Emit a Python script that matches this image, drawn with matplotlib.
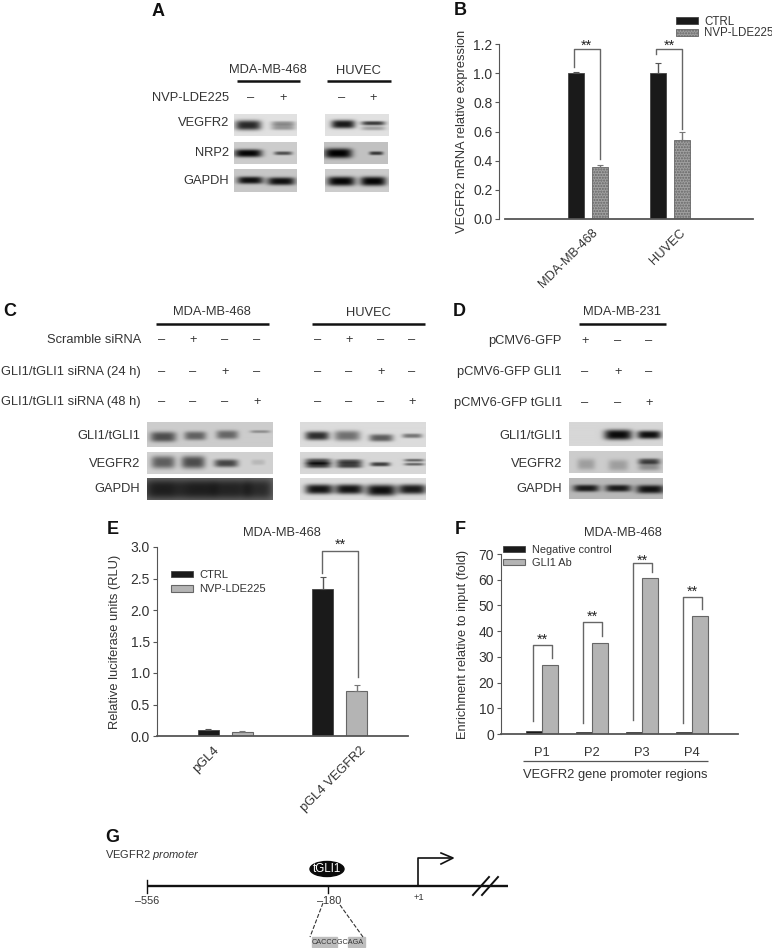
import numpy as np
import matplotlib
matplotlib.use('Agg')
import matplotlib.pyplot as plt
from matplotlib.patches import Ellipse, Rectangle
from matplotlib.transforms import ScaledTranslation

plt.rcParams['font.family'] = ['Liberation Sans', 'DejaVu Sans']
plt.rcParams['text.color'] = '#333333'
plt.rcParams['axes.labelcolor'] = '#333333'
plt.rcParams['xtick.color'] = '#333333'
plt.rcParams['ytick.color'] = '#333333'
plt.rcParams['mathtext.fontset'] = 'custom'
plt.rcParams['mathtext.it'] = 'Liberation Sans:italic'
plt.rcParams['mathtext.rm'] = 'Liberation Sans'

W, H = 772, 948
FS = 9.3
DARK = '#1a1a1a'
GREY = '#b4b4b4'
LINE = '#555555'

# panel B
b_groups = ['MDA-MB-468', 'HUVEC']
b_ctrl = [1.0, 1.0]
b_ctrl_err = [0.005, 0.07]
b_nvp = [0.36, 0.545]
b_nvp_err = [0.012, 0.05]
b_left_low = [1.04, 1.13]
b_right_low = [0.41, 0.62]
b_top = [1.166, 1.166]

# panel E
e_groups = ['pGL4', 'pGL4 VEGFR2']
e_ctrl = [0.09, 2.33]
e_ctrl_err = [0.015, 0.19]
e_nvp = [0.07, 0.71]
e_nvp_err = [0.015, 0.10]

# panel F
f_groups = ['P1', 'P2', 'P3', 'P4']
f_neg = [1.0, 0.9, 0.9, 0.9]
f_ab = [27, 35.5, 60.5, 46]
f_top = [34.6, 43.6, 66.5, 53.3]
f_star = [36.6, 45.5, 67.3, 55.2]
f_right_low = [29.6, 38.1, 63, 48.6]
f_left_low = [4.9, 4.3, 5.5, 4.3]

# westerns: (x0, x1, y0, y1, background, bands (x, half width, y, half height, darkness))
blots = [
    # A
    (234, 297, 114, 136, .88, [(248, 13, 125, 3.5, .72), (283, 12, 123, 1.5, .3), (283, 12, 127, 2, .3)]),
    (234, 297, 142, 164, .80, [(248, 14, 153, 2.8, .78), (283, 9, 153, 1.3, .5)]),
    (234, 297, 169, 192, .78, [(250, 13, 180, 2.6, .72), (281, 14, 181, 2.8, .72)]),
    (325, 389, 114, 136, .88, [(343, 12, 124, 3, .78), (373, 12, 123, 1.5, .65), (373, 12, 128, 1.5, .25)]),
    (324, 388, 142, 164, .76, [(338, 14, 153, 3.5, .76), (376, 7, 153, 1.3, .55)]),
    (325, 389, 169, 192, .80, [(341, 14, 181, 3.3, .78), (373, 13, 181, 3.3, .78)]),
    # C
    (147, 273, 423, 447, .80, [(163, 13, 437, 3.5, .5), (195, 11, 436, 3, .42), (227, 11, 435, 3, .4),
                               (260, 10, 432, 1, .25)]),
    (147, 273, 452, 474, .82, [(163, 12, 462, 4.5, .45), (193, 12, 462, 4.5, .52), (226, 12, 463, 2.8, .55),
                               (258, 7, 462, 2, .1)]),
    (147, 273, 478, 500, .42, [(163, 19, 489, 7, .3), (198, 18, 489, 7, .3), (230, 18, 489, 7, .28),
                               (258, 14, 489, 7, .25)]),
    (300, 426, 423, 447, .86, [(317, 12, 436, 3, .68), (347, 13, 436, 3.5, .42), (381, 12, 438, 2.5, .5),
                               (412, 10, 436, 1.5, .4)]),
    (300, 426, 452, 474, .84, [(318, 13, 461, 2, .55), (318, 13, 465, 2, .6), (349, 13, 461, 1.5, .5),
                               (349, 13, 465, 2, .6), (380, 10, 464, 1.5, .6), (414, 10, 460, 1, .45),
                               (414, 10, 464, 1, .45)]),
    (300, 426, 478, 500, .86, [(319, 14, 489, 3.5, .78), (349, 14, 489, 3.5, .78), (381, 15, 490, 4, .8),
                               (412, 14, 489, 3.5, .75)]),
    # D
    (569, 663, 423, 446, .84, [(618, 14, 435, 3.5, .8), (649, 12, 435, 2.8, .78)]),
    (569, 663, 451, 473, .80, [(586, 9, 464, 4, .18), (618, 10, 465, 4, .18), (649, 11, 461, 2, .5),
                               (649, 11, 466, 3, .25)]),
    (569, 663, 478, 499, .72, [(586, 13, 488, 2.5, .62), (618, 13, 488, 2.5, .62), (650, 14, 489, 3, .65)]),
]

# label rows
a_rows = [('VEGFR2', 123), ('NRP2', 153), ('GAPDH', 181)]
c_rows = [('Scramble siRNA', '-+--', 340), ('GLI1/tGLI1 siRNA (24 h)', '--+-', 372),
          ('GLI1/tGLI1 siRNA (48 h)', '---+', 402)]
d_rows = [('pCMV6-GFP', '+--', 341), ('pCMV6-GFP GLI1', '-+-', 372), ('pCMV6-GFP tGLI1', '--+', 403)]
blot_rows = [('GLI1/tGLI1', 436), ('VEGFR2', 464), ('GAPDH', 489)]


def pos(x0, y0, x1, y1):
    # pixel box to figure fraction
    return [x0 / W, 1 - y1 / H, (x1 - x0) / W, (y1 - y0) / H]


def style(ax):
    for s in ['top', 'right']:
        ax.spines[s].set_visible(False)
    ax.spines['left'].set_color(LINE)
    ax.spines['left'].set_linewidth(.8)
    ax.spines['bottom'].set_color(LINE)
    ax.spines['bottom'].set_linewidth(1.3)
    ax.tick_params(axis='y', labelsize=FS + .7, length=3, width=.8, color=LINE, pad=2)
    ax.tick_params(axis='x', length=0)
    ax.patch.set_visible(False)


def shift_labels(ax, dxs, dy=0):
    for lab, dx in zip(ax.get_xticklabels(), dxs):
        lab.set_transform(lab.get_transform() + ScaledTranslation(dx / 100, dy / 100, fig.dpi_scale_trans))


def bracket(ax, x0, x1, low0, low1, top, star_y):
    ax.plot([x0, x0, x1, x1], [low0, top, top, low1], color='#666666', lw=1, clip_on=False, zorder=4)
    ax.text((x0 + x1) / 2, star_y, '**', ha='center', va='center', fontsize=FS + 1, color='#222222', clip_on=False)


fig = plt.figure(figsize=(W / 100, H / 100), dpi=100)

# B
ax = fig.add_axes(pos(505, 44, 753, 219))
ax.bar(np.arange(2) - .145, b_ctrl, .19, color=DARK, edgecolor='#444444', lw=.6, label='CTRL',
       yerr=[[0, 0], b_ctrl_err], ecolor='#555555', error_kw=dict(lw=1, capsize=2, capthick=.8))
ax.bar(np.arange(2) + .145, b_nvp, .19, color='#a0a0a0', edgecolor='#666666', lw=.6, hatch='......',
       label='NVP-LDE225', yerr=[[0, 0], b_nvp_err], ecolor='#777777', error_kw=dict(lw=1, capsize=2, capthick=.8))
ax.set_xlim(-1, 2)
ax.set_ylim(0, 1.2)
ax.set_yticks(np.arange(0, 1.21, .2))
ax.set_xticks(range(2))
ax.set_xticklabels(b_groups, rotation=45, ha='right', rotation_mode='anchor', fontsize=FS)
style(ax)
ax.spines['left'].set_position(('outward', 4))
shift_labels(ax, [4, 9], -3)
ax.set_ylabel('VEGFR2 mRNA relative expression', fontsize=FS)
ax.yaxis.set_label_coords(-.151, .5)
for i in range(2):
    bracket(ax, i - .17, i + .145, b_left_low[i], b_right_low[i], b_top[i], 1.19)
handles_b = ax.get_legend_handles_labels()

# E
ax = fig.add_axes(pos(157, 547, 408, 736))
ax.bar(np.arange(2) - .149, e_ctrl, .187, color=DARK, edgecolor='#444444', lw=.6, label='CTRL',
       yerr=[[0, 0], e_ctrl_err], ecolor='#555555', error_kw=dict(lw=1, capsize=2, capthick=.8))
ax.bar(np.arange(2) + .149, e_nvp, .187, color=GREY, edgecolor='#666666', lw=.8, label='NVP-LDE225',
       yerr=[[0, 0], e_nvp_err], ecolor='#777777', error_kw=dict(lw=1, capsize=2, capthick=.8))
ax.set_xlim(-.6, 1.6)
ax.set_ylim(0, 3)
ax.set_yticks(np.arange(0, 3.01, .5))
ax.set_xticks(range(2))
ax.set_xticklabels(e_groups, rotation=45, ha='right', rotation_mode='anchor', fontsize=FS)
style(ax)
shift_labels(ax, [-13, 20], -3)
ax.set_ylabel('Relative luciferase units (RLU)', fontsize=FS)
ax.yaxis.set_label_coords(-.144, .5)
bracket(ax, 1 - .15, 1 + .165, 2.59, .94, 2.94, 3.03)
handles_e = ax.get_legend_handles_labels()

# F
ax = fig.add_axes(pos(501, 554, 738, 734))
xf = np.arange(4)
ax.bar(xf - .16, f_neg, .32, color=DARK, edgecolor='#333333', lw=.5, label='Negative control')
ax.bar(xf + .16, f_ab, .32, color=GREY, edgecolor='#666666', lw=.8, label='GLI1 Ab')
ax.set_xlim(-.82, 3.92)
ax.set_ylim(0, 70)
ax.set_yticks(range(0, 71, 10))
ax.set_xticks(xf)
ax.set_xticklabels(f_groups, fontsize=FS)
style(ax)
ax.tick_params(axis='x', pad=9)
ax.set_ylabel('Enrichment relative to input (fold)', fontsize=FS)
ax.yaxis.set_label_coords(-.135, .5)
for i in xf:
    bracket(ax, i - .18, i + .2, f_left_low[i], f_right_low[i], f_top[i], f_star[i])
handles_f = ax.get_legend_handles_labels()

# everything placed by pixel
ov = fig.add_axes([0, 0, 1, 1], zorder=5)
ov.patch.set_visible(False)
ov.axis('off')

for x0, x1, y0, y1, bg, bands in blots:
    xx, yy = np.meshgrid(np.arange(x0, x1, .5), np.arange(y0, y1, .5))
    img = np.full(xx.shape, bg)
    for bx, hw, by, hh, d in bands:
        img -= d * np.exp(-((xx - bx) / hw) ** 4) * np.exp(-np.abs((yy - by) / (1.4 * hh)) ** 3)
    ov.imshow(np.clip(img, 0, 1), cmap='gray', vmin=0, vmax=1, extent=(x0, x1, y1, y0), aspect='auto',
              interpolation='bilinear')
ov.set_xlim(0, W)
ov.set_ylim(H, 0)


def label(x, y, s, ha='center', size=FS, **kw):
    ov.text(x, y, s, ha=ha, va='center', fontsize=size, **kw)


def sign(x, y, s):
    label(x, y, '\u2013' if s == '-' else '+', size=FS)


def hline(x0, x1, y, lw=1.8, c='#111111'):
    ov.plot([x0, x1], [y, y], color=c, lw=lw, solid_capstyle='butt')


for s, x, y in [('A', 158, 11), ('B', 460, 10), ('C', 10, 311), ('D', 459, 311), ('E', 113, 530), ('F', 460, 530),
                ('G', 112, 838)]:
    label(x, y, s, size=13, fontweight='bold', color='#111111')

# A
label(268, 70, 'MDA-MB-468')
label(358, 71, 'HUVEC')
hline(237, 300, 81)
hline(327, 391, 81)
label(229, 98, 'NVP-LDE225', ha='right')
for x, s in zip([251, 283, 342, 373], '-+-+'):
    sign(x, 98, s)
for s, y in a_rows:
    label(229, y, s, ha='right')

# C
label(212, 312, 'MDA-MB-468')
label(368, 313, 'HUVEC')
hline(156, 269, 324)
hline(312, 425, 324)
for s, marks, y in c_rows:
    label(141, y, s, ha='right')
    for x, m in zip([162, 193, 225, 257], marks):
        sign(x, y, m)
    for x, m in zip([318, 349, 381, 412], marks):
        sign(x, y, m)
for s, y in blot_rows:
    label(140, y, s, ha='right')

# D
label(622, 312, 'MDA-MB-231')
hline(579, 666, 324)
for s, marks, y in d_rows:
    label(562, y, s, ha='right')
    for x, m in zip([585, 618, 649], marks):
        sign(x, y, m)
for s, y in blot_rows:
    label(562, y, s, ha='right')

# legends
leg_kw = dict(frameon=False, loc='upper left', borderpad=0, borderaxespad=0, handletextpad=.55,
              bbox_transform=ov.transData, handleheight=.55)
ov.legend(*handles_b, bbox_to_anchor=(676, 16), fontsize=8.3, handlelength=1.9, labelspacing=-.05, **leg_kw)
ov.add_artist(ov.get_legend())
ov.legend(*handles_e, bbox_to_anchor=(171, 570), fontsize=8.05, handlelength=1.95, labelspacing=.4, **leg_kw)
ov.add_artist(ov.get_legend())
ov.legend(*handles_f, bbox_to_anchor=(503, 545), fontsize=7.9, handlelength=2.05, labelspacing=.28, **leg_kw)

# E, F headers
label(282, 533, 'MDA-MB-468')
label(623, 533, 'MDA-MB-468')
hline(523, 708, 761, lw=.9, c='#555555')
label(615, 775, 'VEGFR2 gene promoter regions')

# G
label(105, 855, 'VEGFR2 $\\mathit{promoter}$', ha='left', size=FS - 1.3)
hline(147, 508, 886, lw=1.7)
ov.plot([147, 147], [880, 893], color='#111111', lw=1)
ov.plot([328, 328], [886, 893], color='#111111', lw=1)
ov.plot([418, 418, 450], [886, 858, 858], color='#111111', lw=1.2)
ov.plot([441, 453, 441], [853, 858, 864], color='#111111', lw=1.2)
ov.plot([473, 489], [895, 877], color='#111111', lw=1.4)
ov.plot([482, 498], [895, 877], color='#111111', lw=1.4)
ov.add_patch(Ellipse((327, 869), 34, 15, color='#0a0a0a'))
label(327, 869, 'tGLI1', color='white', size=FS - 1)
label(147, 901, '\u2013556', size=FS - 1.5)
label(329, 901, '\u2013180', size=FS - 1.5)
label(419, 897, '+1', size=FS - 2.5)
ov.plot([323, 310], [903, 937], color='#333333', lw=.8, ls='--')
ov.plot([340, 363], [905, 937], color='#333333', lw=.8, ls='--')
ov.add_patch(Rectangle((312, 937), 25, 10, color='#bdbdbd'))
ov.add_patch(Rectangle((348, 937), 17, 10, color='#bdbdbd'))
label(338, 942, 'CACCCGCAGA', size=5.2)

fig.savefig('out.png', dpi=100)
